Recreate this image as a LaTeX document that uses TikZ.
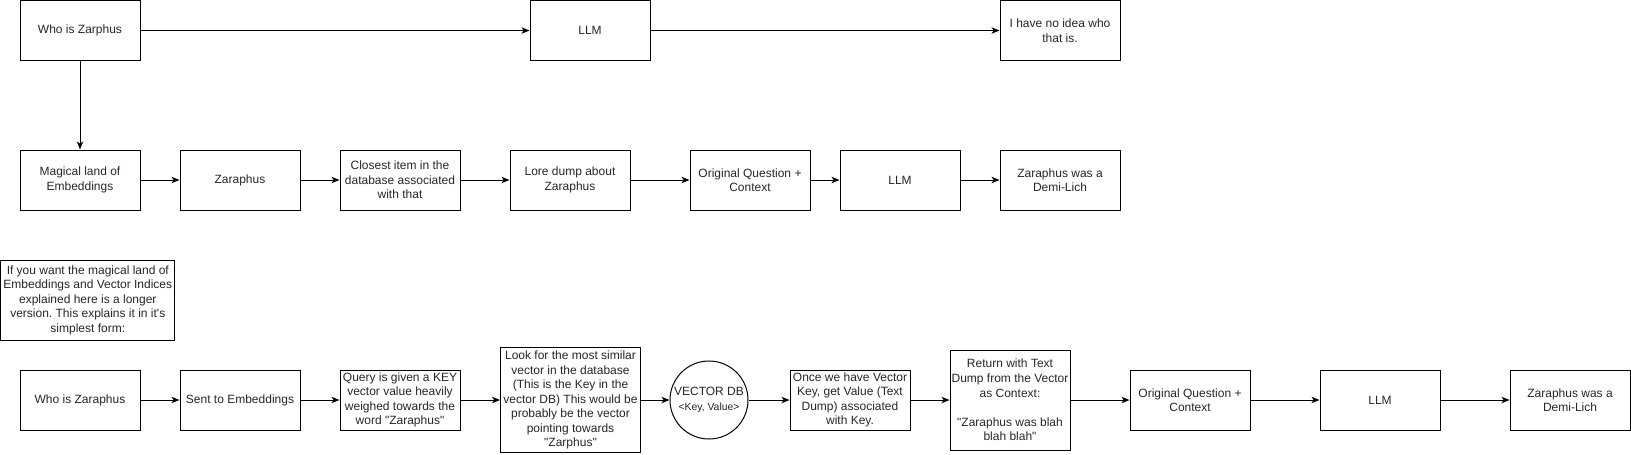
\documentclass[tikz,border=0pt]{standalone}
\usepackage{fontspec}
\setmainfont{Liberation Sans}
\newfontfamily\plainsans{Liberation Sans}
\usetikzlibrary{arrows.meta}
\frenchspacing
\tikzset{
  box/.style={draw, line width=0.75pt, minimum width=90pt, minimum height=45pt, align=center, inner sep=0pt, font=\plainsans\fontsize{9}{10.9}\selectfont, text=black!85},
  dbcircle/.style={draw, circle, line width=0.75pt, minimum size=58.5pt, align=center, inner sep=0pt, font=\plainsans\fontsize{9}{10.9}\selectfont, text=black!85},
  arr/.style={-{Stealth[length=6pt,width=4.8pt,inset=1.6pt]}, line width=0.75pt}
}
\begin{document}
\begin{tikzpicture}[x=0.75pt,y=-0.75pt]
\useasboundingbox (0,0) rectangle (1631,454);
% row 1
\node[box] (who1) at (80,30.5) {Who is Zarphus};
\node[box] (llm1) at (590,30.5) {LLM};
\node[box] (idk) at (1060,30.5) {I have no idea who\\that is.};
% row 2
\node[box] (mag) at (80,180) {Magical land of\\Embeddings};
\node[box] (zar) at (240,180) {Zaraphus};
\node[box] (close) at (400,180) {Closest item in the\\database associated\\with that};
\node[box] (lore) at (570,180) {Lore dump about\\Zaraphus};
\node[box] (orig2) at (750,180) {Original Question +\\Context};
\node[box] (llm2) at (900,180) {LLM};
\node[box] (res2) at (1060,180) {Zaraphus was a\\Demi-Lich};
% note
\node[box, minimum width=130.5pt, minimum height=60pt] (note) at (87.8,300) {If you want the magical land of\\Embeddings and Vector Indices\\explained here is a longer\\version. This explains it in it's\\simplest form:};
% row 3
\node[box] (who3) at (80,400) {Who is Zaraphus};
\node[box] (sent) at (240,400) {Sent to Embeddings};
\node[box] (query) at (400,400) {Query is given a KEY\\vector value heavily\\weighed towards the\\word "Zaraphus"};
\node[box, minimum width=105pt, minimum height=78.5pt] (look) at (570.5,400) {Look for the most similar\\vector in the database\\(This is the Key in the\\vector DB) This would be\\probably be the vector\\pointing towards\\"Zarphus"};
\node[dbcircle] (vdb) at (709,400) {VECTOR DB\\{\fontsize{7.8}{9}\selectfont <Key, Value>}};
\node[box] (once) at (850,400) {Once we have Vector\\Key, get Value (Text\\Dump) associated\\with Key.};
\node[box, minimum height=75pt] (ret) at (1010,400) {Return with Text\\Dump from the Vector\\as Context:\\[10.9pt]"Zaraphus was blah\\blah blah"};
\node[box] (orig3) at (1190,400) {Original Question +\\Context};
\node[box] (llm3) at (1380,400) {LLM};
\node[box] (res3) at (1570,400) {Zaraphus was a\\Demi-Lich};
% connectors
\draw[arr] (who1) -- (llm1);
\draw[arr] (llm1) -- (idk);
\draw[arr] (who1) -- (mag);
\draw[arr] (mag) -- (zar);
\draw[arr] (zar) -- (close);
\draw[arr] (close) -- (lore);
\draw[arr] (lore) -- (orig2);
\draw[arr] (orig2) -- (llm2);
\draw[arr] (llm2) -- (res2);
\draw[arr] (who3) -- (sent);
\draw[arr] (sent) -- (query);
\draw[arr] (query) -- (look);
\draw[arr] (look) -- (vdb);
\draw[arr] (vdb) -- (once);
\draw[arr] (once) -- (ret);
\draw[arr] (ret) -- (orig3);
\draw[arr] (orig3) -- (llm3);
\draw[arr] (llm3) -- (res3);
\end{tikzpicture}
\end{document}
